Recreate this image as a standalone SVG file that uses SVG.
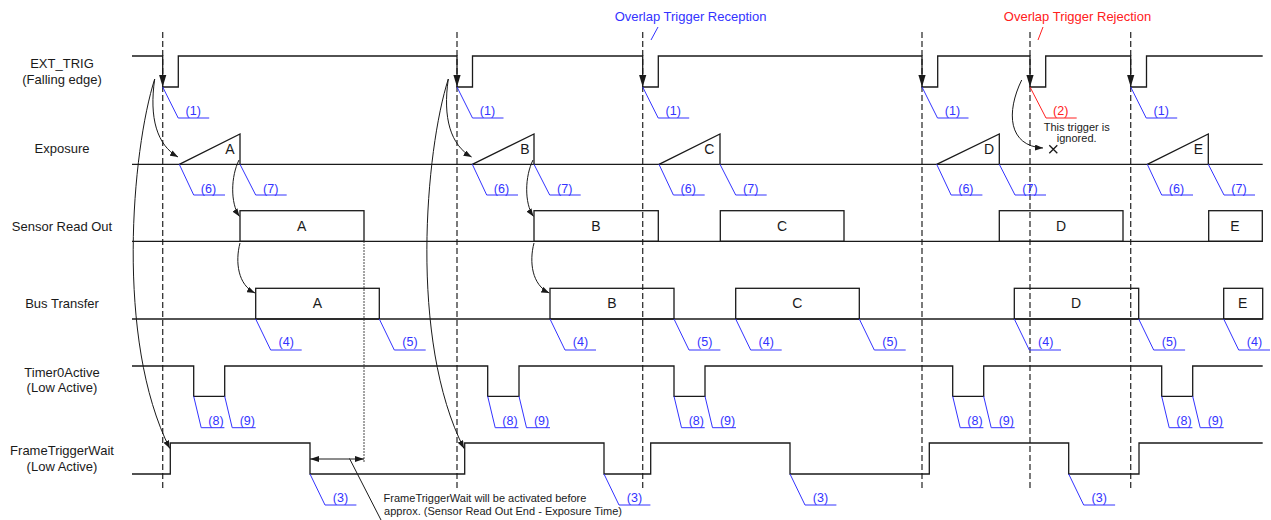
<svg xmlns="http://www.w3.org/2000/svg" width="1271" height="520" viewBox="0 0 1271 520">
<style>
.sig{fill:none;stroke:#1a1a1a;stroke-width:1.3}
.box{fill:none;stroke:#1a1a1a;stroke-width:1.3}
.dash{fill:none;stroke:#333;stroke-width:1.3;stroke-dasharray:6 3}
.dot{fill:none;stroke:#333;stroke-width:1.2;stroke-dasharray:1.5 1.5}
.bl{fill:none;stroke:#3333ff;stroke-width:1}
.rl{fill:none;stroke:#ff2020;stroke-width:1}
.cur{fill:none;stroke:#1a1a1a;stroke-width:1}
text{font-family:"Liberation Sans",Arial,sans-serif;text-anchor:middle}
.lbl{font-size:13px;fill:#1a1a1a}
.let{font-size:14px;fill:#1a1a1a}
.num{font-size:12.5px;fill:#3333ff}
.rnum{font-size:12.5px;fill:#ff2020}
.note{font-size:11px;fill:#1a1a1a}
</style>
<defs>
<marker id="ah" viewBox="0 0 8 6" refX="8" refY="3" markerWidth="8" markerHeight="6" markerUnits="userSpaceOnUse" orient="auto">
<path d="M0,0 L8,3 L0,6 Z" fill="#1a1a1a"/>
</marker>
<marker id="ah2" viewBox="0 0 9 6" refX="9" refY="3" markerWidth="9" markerHeight="6" markerUnits="userSpaceOnUse" orient="auto-start-reverse">
<path d="M0,0 L9,3 L0,6 Z" fill="#1a1a1a"/>
</marker>
<path id="trigArrow" d="M-3.6,-12 L3.6,-12 L0,0 Z" fill="#1a1a1a"/>
</defs>

<g id="labels">
<text class="lbl" x="62" y="67.5">EXT_TRIG</text>
<text class="lbl" x="62" y="84">(Falling edge)</text>
<text class="lbl" x="62" y="152.5">Exposure</text>
<text class="lbl" x="62" y="230.5">Sensor Read Out</text>
<text class="lbl" x="62" y="307.5">Bus Transfer</text>
<text class="lbl" x="62" y="377">Timer0Active</text>
<text class="lbl" x="62" y="392">(Low Active)</text>
<text class="lbl" x="62" y="455">FrameTriggerWait</text>
<text class="lbl" x="62" y="470.5">(Low Active)</text>
</g>

<g id="triggers">
<line class="dash" x1="162.7" y1="32" x2="162.7" y2="489"/>
<line class="dash" x1="457" y1="32" x2="457" y2="489"/>
<line class="dash" x1="642.7" y1="32" x2="642.7" y2="489"/>
<line class="dash" x1="922" y1="32" x2="922" y2="489"/>
<line class="dash" x1="1030" y1="32" x2="1030" y2="489"/>
<line class="dash" x1="1130.7" y1="32" x2="1130.7" y2="489"/>
</g>

<g id="ext-trig">
<path class="sig" d="M132,56 H162.7 V87 H178.3 V56 H457 V87 H472.5 V56 H642.7 V87 H658.3 V56 H922 V87 H937.7 V56 H1030 V87 H1045.7 V56 H1130.7 V87 H1146.5 V56 H1262.7"/>
<use href="#trigArrow" x="162.7" y="87"/>
<use href="#trigArrow" x="457" y="87"/>
<use href="#trigArrow" x="642.7" y="87"/>
<use href="#trigArrow" x="922" y="87"/>
<use href="#trigArrow" x="1030" y="87"/>
<use href="#trigArrow" x="1130.7" y="87"/>
</g>

<g id="exposure">
<path class="sig" d="M132,164.3 H1262.7"/>
<path class="sig" d="M179.3,164.3 L240,134 V164.3"/>
<path class="sig" d="M472.3,164.3 L534,134 V164.3"/>
<path class="sig" d="M659,164.3 L720,134 V164.3"/>
<path class="sig" d="M936.7,164.3 L999.3,134 V164.3"/>
<path class="sig" d="M1147.3,164.3 L1208.3,134 V164.3"/>
<text class="let" x="230" y="154">A</text>
<text class="let" x="525" y="154">B</text>
<text class="let" x="709.3" y="154">C</text>
<text class="let" x="989" y="154">D</text>
<text class="let" x="1198.3" y="154">E</text>
</g>

<g id="sensor-read-out">
<path class="sig" d="M132,241.3 H1262.7"/>
<rect class="box" x="240" y="210.7" width="124" height="30.6"/>
<rect class="box" x="534" y="210.7" width="124.3" height="30.6"/>
<rect class="box" x="720.3" y="210.7" width="123.7" height="30.6"/>
<rect class="box" x="999.3" y="210.7" width="123.7" height="30.6"/>
<rect class="box" x="1208.7" y="210.7" width="53.6" height="30.6"/>
<text class="let" x="301.7" y="231">A</text>
<text class="let" x="596" y="231">B</text>
<text class="let" x="782" y="231">C</text>
<text class="let" x="1061" y="231">D</text>
<text class="let" x="1235" y="231">E</text>
</g>

<g id="bus-transfer">
<path class="sig" d="M132,319 H1262.7"/>
<rect class="box" x="255.7" y="288.3" width="123.6" height="30.7"/>
<rect class="box" x="550" y="288.3" width="124" height="30.7"/>
<rect class="box" x="735.7" y="288.3" width="123.6" height="30.7"/>
<rect class="box" x="1014.3" y="288.3" width="124.4" height="30.7"/>
<rect class="box" x="1223.7" y="288.3" width="39" height="30.7"/>
<text class="let" x="317.5" y="308">A</text>
<text class="let" x="612" y="308">B</text>
<text class="let" x="797.3" y="308">C</text>
<text class="let" x="1076" y="308">D</text>
<text class="let" x="1242.7" y="308">E</text>
</g>

<g id="timer0active">
<path class="sig" d="M132,366 H193.7 V396.3 H224.7 V366 H487.7 V396.3 H519 V366 H674 V396.3 H705 V366 H952.7 V396.3 H983.7 V366 H1161.7 V396.3 H1192.7 V366 H1262.7"/>
</g>

<g id="frame-trigger-wait">
<path class="sig" d="M132,474 H170.3 V443 H310 V474 H464.7 V443 H604 V474 H650.7 V443 H790 V474 H929.3 V443 H1068.7 V474 H1139 V443 H1262.7"/>
</g>

<g id="overlap-labels">
<text class="lbl" x="690.5" y="20.5" style="fill:#3333ff">Overlap Trigger Reception</text>
<path class="bl" d="M658,27 L651,40"/>
<text class="lbl" x="1077.5" y="20.5" style="fill:#ff2020">Overlap Trigger Rejection</text>
<path class="rl" d="M1043,27 L1038,40"/>
<text class="note" x="1076.7" y="130.5">This trigger is</text>
<text class="note" x="1076.7" y="142">ignored.</text>
<path class="sig" stroke-width="1" d="M1049.3,145.3 L1057.3,153.3 M1057.3,145.3 L1049.3,153.3"/>
</g>

<g id="annotation">
<line class="dot" x1="364" y1="241.3" x2="364" y2="462"/>
<line class="cur" x1="310" y1="459" x2="364" y2="459" marker-start="url(#ah2)" marker-end="url(#ah2)"/>
<path class="cur" d="M349.5,458.5 L381,520"/>
<text class="note" x="485" y="502">FrameTriggerWait will be activated before</text>
<text class="note" x="503" y="515">approx. (Sensor Read Out End - Exposure Time)</text>
</g>

<g id="connectors">
<path class="cur" d="M154.7,79 C132,150 115,340 169.8,448.5" marker-end="url(#ah)"/>
<path class="cur" d="M448.3,79 C425.6,150 408.6,340 464,448.5" marker-end="url(#ah)"/>
<path class="cur" d="M154.7,79 C149,118 157,145 178,157" marker-end="url(#ah)"/>
<path class="cur" d="M448.3,79 C442.6,118 450.6,145 471.6,157" marker-end="url(#ah)"/>
<path class="cur" d="M239,160 C231,176 230,203 239.5,216.5" marker-end="url(#ah)"/>
<path class="cur" d="M533,160 C525,176 524,203 533.5,216.5" marker-end="url(#ah)"/>
<path class="cur" d="M240,243 C235,262 238,285 255,293" marker-end="url(#ah)"/>
<path class="cur" d="M534,243 C529,262 532,285 549.3,293" marker-end="url(#ah)"/>
<path class="cur" d="M1021.7,80 C1006,112 1008,146 1043,148" marker-end="url(#ah)"/>
</g>

<g id="callouts">
<path class="bl" d="M162.7,87 L178.2,118 H209.2 M457,87 L472.5,118 H503.5 M642.7,87 L658.2,118 H689.2 M922,87 L937.5,118 H968.5 M1130.7,87 L1146.2,118 H1177.2"/>
<text class="num" x="193.2" y="114.5">(1)</text>
<text class="num" x="487.5" y="114.5">(1)</text>
<text class="num" x="673.2" y="114.5">(1)</text>
<text class="num" x="952.5" y="114.5">(1)</text>
<text class="num" x="1161.2" y="114.5">(1)</text>
<path class="rl" d="M1030,87 L1046,118 H1076.7"/>
<text class="rnum" x="1060.7" y="114.5">(2)</text>

<path class="bl" d="M179.3,164.3 L193.7,195 H225 M472.3,164.3 L486.7,195 H518 M659,164.3 L673.4,195 H704.7 M936.7,164.3 L951.1,195 H982.4 M1147.3,164.3 L1161.7,195 H1193"/>
<text class="num" x="208.5" y="193">(6)</text>
<text class="num" x="501.5" y="193">(6)</text>
<text class="num" x="688.2" y="193">(6)</text>
<text class="num" x="965.9" y="193">(6)</text>
<text class="num" x="1176.5" y="193">(6)</text>
<path class="bl" d="M240,164.3 L255.7,195 H286.7 M534,164.3 L549.7,195 H580.7 M720,164.3 L735.7,195 H766.7 M999.3,164.3 L1015,195 H1046 M1208.3,164.3 L1224,195 H1255"/>
<text class="num" x="270.7" y="193">(7)</text>
<text class="num" x="564.7" y="193">(7)</text>
<text class="num" x="750.7" y="193">(7)</text>
<text class="num" x="1030" y="193">(7)</text>
<text class="num" x="1239" y="193">(7)</text>

<path class="bl" d="M255.7,319 L270.7,350 H301.7 M550,319 L565,350 H596 M735.7,319 L750.7,350 H781.7 M1014.3,319 L1029.3,350 H1061 M1223.7,319 L1238.7,350 H1270"/>
<text class="num" x="286.2" y="346">(4)</text>
<text class="num" x="580.5" y="346">(4)</text>
<text class="num" x="766.2" y="346">(4)</text>
<text class="num" x="1045.7" y="346">(4)</text>
<text class="num" x="1254.5" y="346">(4)</text>
<path class="bl" d="M379.3,319 L394.3,350 H425.7 M674,319 L689,350 H720.4 M859.3,319 L874.3,350 H905.7 M1138.7,319 L1153.7,350 H1185.1"/>
<text class="num" x="410" y="346">(5)</text>
<text class="num" x="704.7" y="346">(5)</text>
<text class="num" x="890" y="346">(5)</text>
<text class="num" x="1169.4" y="346">(5)</text>

<path class="bl" d="M193.7,396.3 L201.2,427.7 H224.4 M487.7,396.3 L495.2,427.7 H518.4 M674,396.3 L681.5,427.7 H704.7 M952.7,396.3 L960.2,427.7 H983.4 M1161.7,396.3 L1169.2,427.7 H1192.4"/>
<text class="num" x="216" y="425">(8)</text>
<text class="num" x="510" y="425">(8)</text>
<text class="num" x="696.3" y="425">(8)</text>
<text class="num" x="975" y="425">(8)</text>
<text class="num" x="1184" y="425">(8)</text>
<path class="bl" d="M224.7,396.3 L232.2,427.7 H255.7 M519,396.3 L526.5,427.7 H550 M705,396.3 L712.5,427.7 H736 M983.7,396.3 L991.2,427.7 H1014.7 M1192.7,396.3 L1200.2,427.7 H1223.7"/>
<text class="num" x="247.3" y="425">(9)</text>
<text class="num" x="541.6" y="425">(9)</text>
<text class="num" x="727.6" y="425">(9)</text>
<text class="num" x="1006.3" y="425">(9)</text>
<text class="num" x="1215.3" y="425">(9)</text>

<path class="bl" d="M310,474 L325,505 H356.4 M604,474 L619,505 H650.4 M790,474 L805,505 H836.4 M1068.7,474 L1083.7,505 H1115.1"/>
<text class="num" x="340.5" y="502">(3)</text>
<text class="num" x="634.5" y="502">(3)</text>
<text class="num" x="820.5" y="502">(3)</text>
<text class="num" x="1099.2" y="502">(3)</text>
</g>
</svg>
